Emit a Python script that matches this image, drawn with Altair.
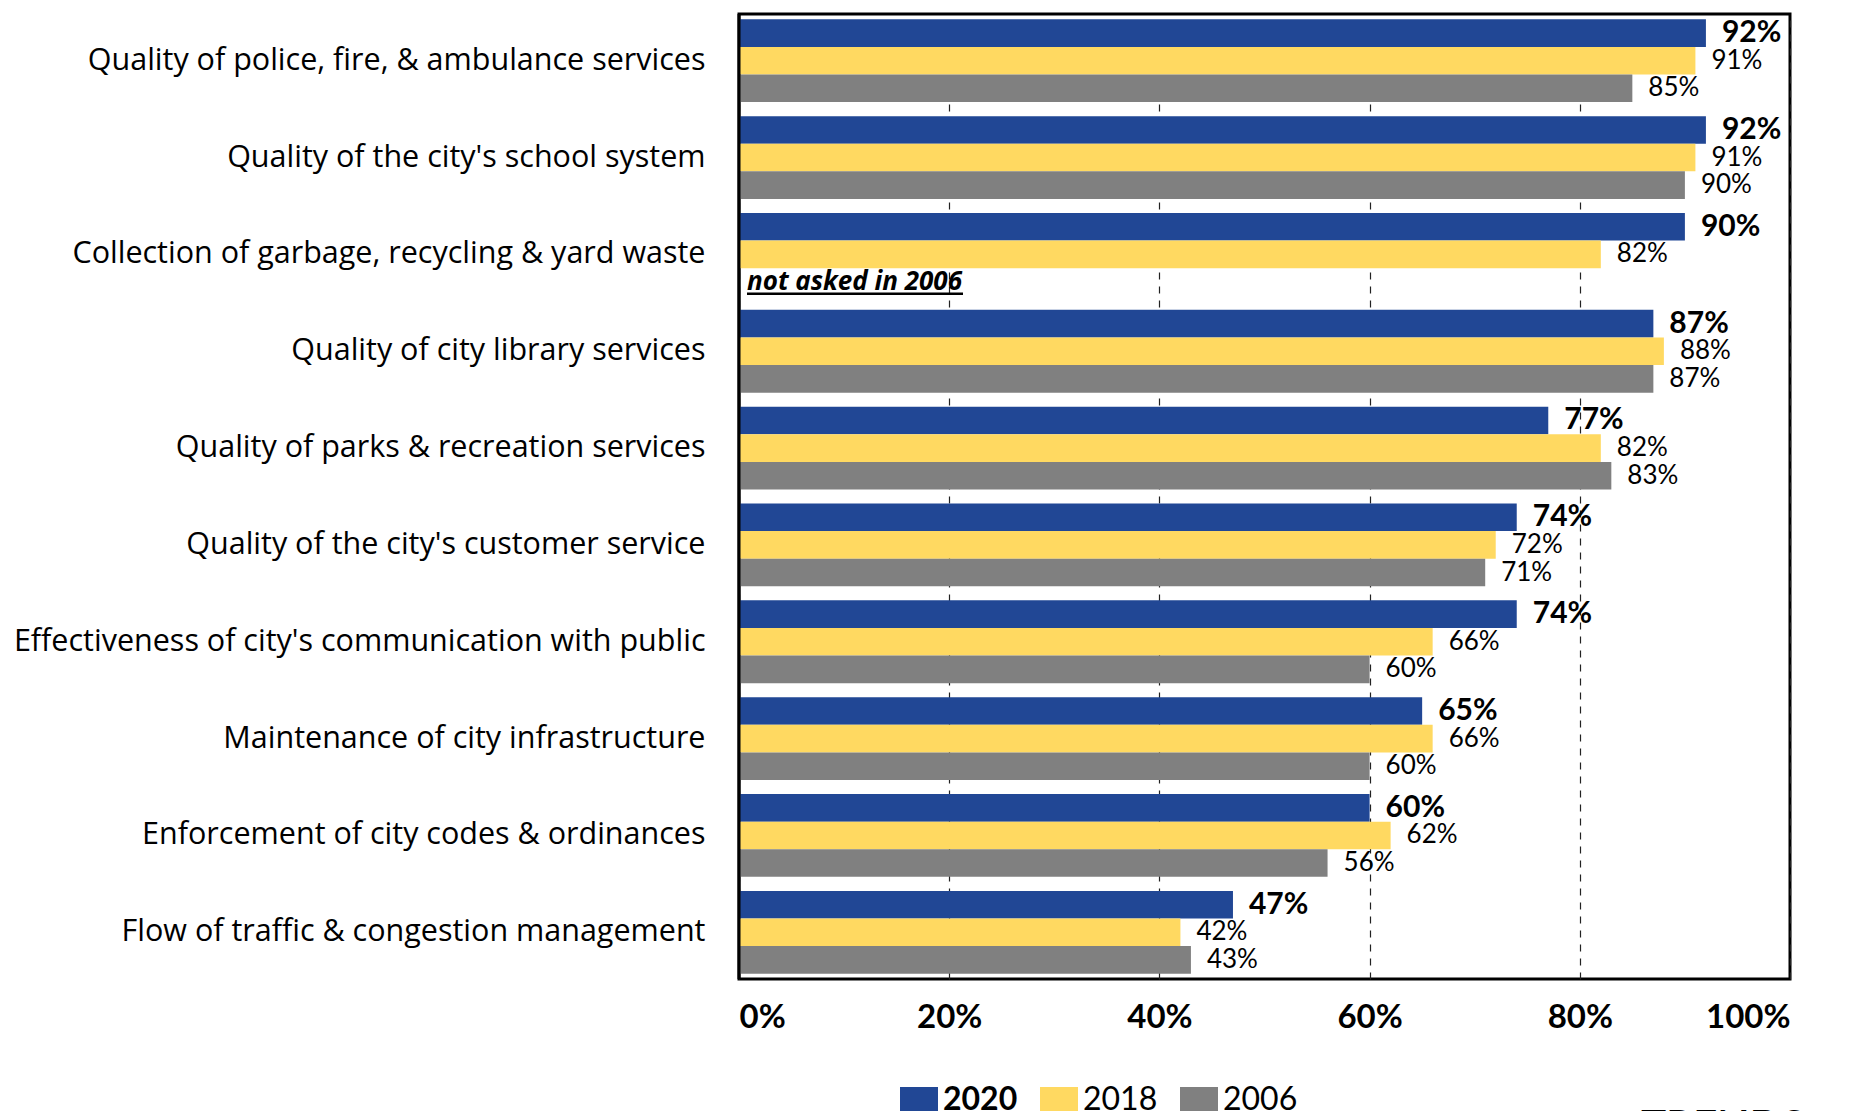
import altair as alt
import pandas as pd

categories = [
    "Quality of police, fire, & ambulance services",
    "Quality of the city's school system",
    "Collection of garbage, recycling & yard waste",
    "Quality of city library services",
    "Quality of parks & recreation services",
    "Quality of the city's customer service",
    "Effectiveness of city's communication with public",
    "Maintenance of city infrastructure",
    "Enforcement of city codes & ordinances",
    "Flow of traffic & congestion management",
]
years = ["2020", "2018", "2006"]
v2020 = [92, 92, 90, 87, 77, 74, 74, 65, 60, 47]
v2018 = [91, 91, 82, 88, 82, 72, 66, 66, 62, 42]
v2006 = [85, 90, None, 87, 83, 71, 60, 60, 56, 43]
colors = ["#214795", "#FFD961", "#808080"]
tick_values = [0, 20, 40, 60, 80, 100]
note_category = "Collection of garbage, recycling & yard waste"
note_text = "not asked in 2006"

rows = []
for yr, vals in zip(years, [v2020, v2018, v2006]):
    for c, v in zip(categories, vals):
        if v is not None:
            rows.append({"category": c, "year": yr, "value": v, "label": f"{v}%"})
df = pd.DataFrame(rows)
note_df = pd.DataFrame([{"category": note_category, "year": "2006", "value": 0, "label": note_text}])

FONT = "Lato"
CAT_FONT = "Open Sans"
W, H = 1051, 965

y_scale = alt.Scale(paddingInner=0.145, paddingOuter=0.055)
y_enc = alt.Y(
    "category:N", sort=categories, title=None, scale=y_scale,
    axis=alt.Axis(labelFontSize=30.5, labelFont=CAT_FONT, labelColor="black", ticks=False,
                  domain=False, labelPadding=34, labelLimit=0, grid=False),
)
yoff = alt.YOffset("year:N", sort=years, scale=alt.Scale(paddingInner=0, paddingOuter=0))
x_scale = alt.Scale(domain=[0, 100], nice=False)

bars = alt.Chart(df).mark_bar().encode(
    x=alt.X("value:Q", scale=x_scale, title=None,
            axis=alt.Axis(values=tick_values, labelExpr="datum.value + '%'", labelFont=FONT,
                          labelFontSize=33, labelFontWeight="bold", labelColor="black",
                          ticks=False, domain=False, labelPadding=22,
                          grid=True, gridColor="#222222", gridDash=[7, 7], gridWidth=1.2)),
    y=y_enc, yOffset=yoff,
    color=alt.Color("year:N", sort=years,
                    scale=alt.Scale(domain=years, range=colors),
                    legend=alt.Legend(title=None, orient="none", direction="horizontal",
                                      legendX=161, legendY=1067,
                                      symbolType="M-1,-0.68H1V0.68H-1Z", symbolSize=1444,
                                      symbolStrokeWidth=0, symbolOpacity=1,
                                      labelFont=FONT, labelFontSize=32, labelColor="black",
                                      labelOffset=5, columnPadding=22, padding=0,
                                      labelFontWeight=alt.ExprRef(
                                          expr="datum.label == '2020' ? 'bold' : 'normal'"))),
)

labels_bold = alt.Chart(df).transform_filter("datum.year == '2020'").mark_text(
    align="left", baseline="middle", dx=16, font=FONT, fontSize=30, fontWeight="bold", color="black"
).encode(x=alt.X("value:Q", scale=x_scale), y=y_enc, yOffset=yoff, text="label:N")

labels_norm = alt.Chart(df).transform_filter("datum.year != '2020'").mark_text(
    align="left", baseline="middle", dx=16, font=FONT, fontSize=26, color="black"
).encode(x=alt.X("value:Q", scale=x_scale), y=y_enc, yOffset=yoff, text="label:N")

note = alt.Chart(note_df).mark_text(
    align="left", baseline="middle", dx=8, dy=0, font=CAT_FONT, fontSize=26, fontWeight="bold",
    fontStyle="italic", color="black"
).encode(x=alt.X("value:Q", scale=x_scale), y=y_enc, yOffset=yoff, text="label:N")

underline = alt.Chart(note_df).mark_rule(color="black", strokeWidth=2.5, yOffset=-2).encode(
    x=alt.value(8), x2=alt.value(224),
    y=alt.Y("category:N", sort=categories, scale=y_scale, bandPosition=1, title=None),
)

left_border = alt.Chart(note_df).mark_rule(color="black", strokeWidth=3).encode(
    x=alt.datum(0), y=alt.value(0), y2=alt.value(H)
)

trends = alt.Chart(note_df).mark_text(
    align="left", baseline="top", font=FONT, fontSize=42, fontWeight="bold", color="black"
).encode(x=alt.value(902), y=alt.value(1094), text=alt.value("TRENDS"))

chart = alt.layer(bars, labels_bold, labels_norm, note, underline, left_border, trends).properties(
    width=W, height=H, padding={"left": 5, "top": 4, "right": 5, "bottom": 5}
).configure(font=FONT, view=alt.ViewConfig(stroke="black", strokeWidth=3))

chart.save("out.html", embed_options={"renderer": "svg", "actions": False})
